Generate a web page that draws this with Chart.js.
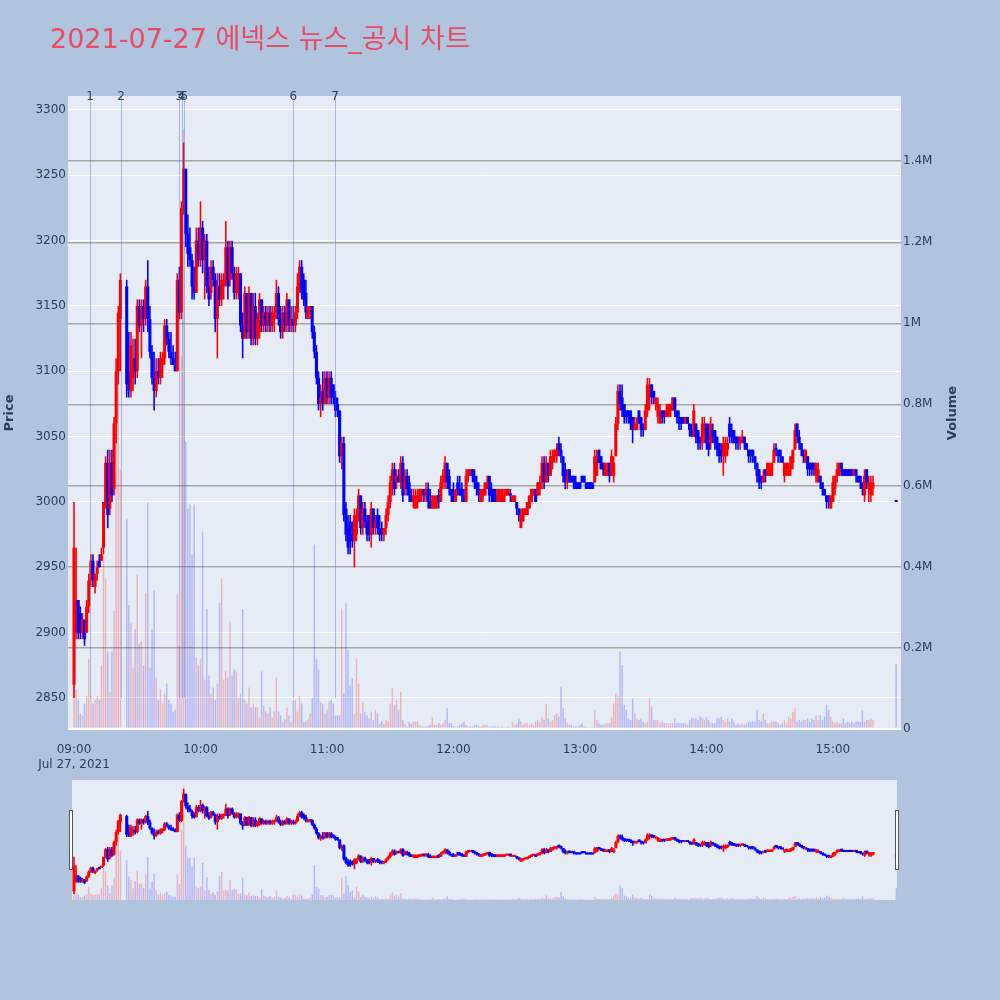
<!DOCTYPE html>
<html>
<head>
<meta charset="utf-8">
<script src="https://cdn.jsdelivr.net/npm/chart.js@4.4.0/dist/chart.umd.min.js"></script>
<style>
  html, body { margin: 0; padding: 0; background: #B0C4DE; }
  #wrap { position: relative; width: 1000px; height: 1000px; }
  #main { position: absolute; left: 0; top: 0; }
  #slider { position: absolute; left: 66px; top: 780px; }
</style>
</head>
<body>
<div id="wrap">
  <canvas id="main" width="1000" height="1000"></canvas>
  <canvas id="slider" width="837" height="120"></canvas>
</div>
<script>
const FONT = "'DejaVu Sans', 'Noto Sans CJK KR', sans-serif";
const INK = '#2a3f5f';
const UP = '#ff0000';
const DOWN = '#0000ff';

const titleText = '2021-07-27 에넥스 뉴스_공시 차트';
const dateLabel = 'Jul 27, 2021';

// tick positions
const hourTicks = [0, 60, 120, 180, 240, 300, 360];          // minutes after 09:00
const priceTicks = [2850, 2900, 2950, 3000, 3050, 3100, 3150, 3200, 3250, 3300];
const volumeTicks = [0, 200, 400, 600, 800, 1000, 1200, 1400]; // thousands

// one entry per minute from 09:00 (index = minutes after 09:00), null = no trades
const open = [
  2860,2900,2925,2915,2900,2910,2900,2920,2940,2955,
  2935,2945,2955,2955,2965,3000,3030,2995,3030,3010,
  3060,3100,3140,null,null,3165,3100,3085,3095,3110,
  3100,3150,3135,3150,3140,3165,3140,3115,3095,3085,
  3100,3095,3105,3110,3135,3125,3115,3110,3105,3100,
  3170,3145,3225,3255,3205,3195,3185,3165,3160,3200,
  3185,3210,3185,3200,3165,3160,3180,3170,3140,3165,
  3155,3165,3170,3195,3170,3195,3175,3160,3160,3175,
  3135,3125,3160,3130,3160,3125,3150,3125,3130,3155,
  3135,3145,3135,3145,3135,3140,3145,3160,3140,3130,
  3145,3135,3155,3135,3140,3135,3145,3165,3180,3170,
  3160,3140,3145,3150,3130,3115,3095,3075,3085,3075,
  3095,3080,3095,3090,3080,3075,3070,3035,3045,2995,
  2980,2985,2975,2970,2975,2990,3005,2980,2995,2985,
  2990,2975,2995,2980,2990,2980,2980,2975,2980,2990,
  3000,3015,3025,3015,3020,3015,3030,3010,3020,3015,
  3005,3000,2995,3000,3000,3005,3010,3005,3010,3000,
  2995,2995,2995,3005,3000,3015,3015,3030,3020,3010,
  3005,3000,3015,3010,3010,3005,3000,3020,3020,3025,
  3020,3015,3010,3000,3005,3005,3010,3020,3010,3010,
  3005,3000,3000,3000,3000,3005,3005,3005,3000,3000,
  3000,2995,2980,2985,2990,2990,2995,3000,3005,3010,
  3005,3010,3015,3030,3015,3030,3020,3030,3035,3035,
  3045,3040,3035,3025,3015,3025,3020,3020,3015,3015,
  3015,3020,3020,3015,3015,3015,3015,3015,3020,3040,
  3035,3030,3020,3020,3030,3020,3020,3035,3060,3085,
  3080,3075,3070,3070,3070,3065,3055,3055,3070,3065,
  3060,3055,3070,3080,3090,3085,3075,3065,3060,3070,
  3070,3065,3065,3070,3070,3080,3070,3065,3065,3065,
  3060,3065,3060,3055,3050,3060,3055,3050,3045,3050,
  3060,3055,3045,3055,3055,3050,3045,3040,3035,3035,
  3040,3060,3055,3055,3050,3050,3045,3045,3050,3045,
  3040,3040,3040,3035,3030,3025,3020,3015,3025,3020,
  3020,3020,3030,3040,3040,3040,3035,3020,3025,3020,
  3025,3030,3040,3060,3050,3045,3040,3030,3035,3030,
  3030,3030,3020,3015,3020,3015,3010,3005,3005,2995,
  3000,3010,3020,3020,3030,3025,3025,3025,3025,3025,
  3020,3025,3020,3020,3015,3005,3025,3010,3005,3010,
  null,null,null,null,null,null,null,null,null,null,
  3000
];
const high = [
  3000,2965,2925,2920,2915,2910,2925,2945,2960,2960,
  2945,2955,2960,2965,3000,3035,3040,3040,3040,3065,
  3110,3150,3175,null,null,3170,3130,3130,3125,3125,
  3155,3155,3155,3155,3170,3185,3150,3120,3115,3110,
  3110,3115,3115,3140,3140,3130,3130,3120,3115,3175,
  3180,3230,3275,3255,3220,3210,3190,3180,3210,3210,
  3230,3215,3205,3205,3180,3185,3185,3175,3175,3175,
  3175,3175,3215,3200,3200,3200,3180,3180,3180,3175,
  3145,3165,3160,3165,3160,3160,3160,3145,3160,3155,
  3150,3150,3150,3150,3150,3150,3170,3165,3150,3150,
  3150,3160,3155,3150,3150,3150,3175,3185,3185,3175,
  3170,3150,3150,3150,3135,3120,3100,3090,3100,3100,
  3100,3100,3100,3090,3085,3080,3070,3050,3050,3000,
  2990,2990,2985,2995,2995,3010,3005,3000,3000,2990,
  2990,3000,2995,2990,2995,2990,2985,2980,2995,3005,
  3020,3030,3030,3025,3025,3035,3035,3025,3025,3020,
  3010,3010,3010,3010,3010,3010,3010,3015,3015,3010,
  3005,3005,3005,3010,3020,3025,3035,3030,3025,3010,
  3015,3010,3020,3020,3015,3010,3025,3025,3025,3025,
  3025,3020,3015,3010,3010,3015,3020,3020,3015,3010,
  3010,3010,3010,3010,3010,3010,3010,3010,3005,3005,
  3000,2995,2995,2995,2995,3000,3005,3010,3010,3010,
  3015,3020,3035,3035,3035,3030,3040,3040,3040,3045,
  3050,3045,3035,3030,3025,3025,3020,3020,3020,3015,
  3015,3020,3020,3015,3015,3015,3015,3040,3040,3040,
  3035,3030,3030,3030,3030,3040,3035,3065,3090,3090,
  3090,3075,3070,3070,3070,3065,3065,3065,3070,3065,
  3060,3075,3095,3095,3090,3085,3080,3080,3075,3070,
  3070,3075,3075,3075,3080,3080,3070,3070,3065,3065,
  3065,3065,3060,3060,3075,3060,3055,3050,3065,3065,
  3060,3060,3065,3060,3055,3050,3045,3045,3050,3050,
  3050,3065,3060,3055,3050,3050,3050,3055,3050,3045,
  3040,3040,3040,3035,3030,3025,3020,3025,3025,3030,
  3030,3030,3045,3045,3040,3040,3035,3030,3030,3030,
  3035,3040,3060,3060,3055,3045,3040,3040,3035,3030,
  3030,3030,3030,3030,3020,3015,3010,3005,3005,3005,
  3020,3020,3030,3030,3030,3025,3025,3025,3025,3025,
  3025,3025,3020,3020,3015,3025,3025,3020,3020,3020,
  null,null,null,null,null,null,null,null,null,null,
  3000
];
const low = [
  2850,2895,2895,2895,2895,2890,2900,2915,2935,2935,
  2930,2940,2950,2955,2960,2995,2980,2990,3000,3005,
  3045,3090,3100,null,null,3080,3080,3080,3085,3090,
  3095,3130,3110,3130,3135,3130,3110,3090,3070,3080,
  3090,3090,3095,3105,3120,3110,3105,3105,3100,3100,
  3140,3140,3220,3195,3180,3180,3155,3155,3160,3180,
  3180,3175,3155,3160,3150,3155,3165,3130,3110,3150,
  3150,3155,3165,3155,3165,3170,3155,3155,3155,3130,
  3110,3125,3125,3125,3120,3120,3120,3120,3125,3130,
  3130,3130,3130,3130,3130,3130,3140,3135,3125,3125,
  3130,3130,3130,3130,3130,3130,3140,3160,3155,3150,
  3140,3140,3140,3125,3110,3090,3070,3065,3070,3075,
  3075,3075,3075,3075,3065,3065,3030,3025,2985,2970,
  2960,2960,2965,2950,2970,2985,2975,2975,2980,2970,
  2970,2965,2975,2975,2975,2970,2970,2970,2975,2985,
  2995,3005,3005,3010,3015,3010,3000,3005,3005,3000,
  3000,2995,2995,2995,3000,3000,3000,3000,2995,2995,
  2995,2995,2995,2995,3000,3010,3010,3010,3005,3000,
  3000,3000,3005,3005,3000,3000,3000,3015,3020,3015,
  3010,3005,3000,3000,3000,3005,3010,3000,3000,3000,
  3000,3000,3000,3000,3000,3005,3005,3000,3000,3000,
  2990,2985,2980,2985,2990,2990,2995,3000,3005,3000,
  3005,3005,3010,3010,3015,3015,3020,3025,3030,3030,
  3035,3030,3015,3010,3010,3015,3015,3010,3010,3010,
  3010,3015,3015,3010,3010,3010,3010,3015,3020,3030,
  3025,3020,3020,3020,3015,3020,3015,3035,3055,3070,
  3065,3060,3060,3060,3055,3045,3055,3055,3060,3050,
  3050,3055,3065,3070,3075,3075,3070,3060,3060,3060,
  3060,3065,3065,3065,3070,3065,3060,3055,3055,3060,
  3060,3060,3050,3050,3050,3045,3040,3040,3040,3045,
  3040,3035,3040,3045,3040,3035,3030,3030,3020,3030,
  3035,3045,3045,3045,3040,3040,3040,3045,3040,3040,
  3030,3030,3030,3025,3015,3010,3010,3015,3015,3020,
  3020,3020,3030,3035,3030,3030,3030,3015,3020,3020,
  3020,3025,3040,3045,3040,3035,3030,3030,3020,3020,
  3020,3020,3015,3015,3010,3005,3005,2995,2995,2995,
  3000,3005,3015,3020,3020,3020,3020,3020,3020,3020,
  3020,3015,3015,3010,3005,3000,3010,3000,3000,3005,
  null,null,null,null,null,null,null,null,null,null,
  3000
];
const close = [
  2965,2925,2900,2900,2910,2895,2920,2940,2955,2940,
  2945,2950,2950,2960,3000,3030,2990,3030,3005,3060,
  3100,3145,3170,null,null,3090,3085,3120,3110,3100,
  3150,3135,3150,3140,3165,3140,3115,3095,3085,3100,
  3095,3110,3110,3135,3125,3115,3110,3105,3100,3170,
  3145,3225,3255,3205,3190,3185,3165,3160,3200,3185,
  3210,3185,3200,3165,3155,3180,3170,3140,3165,3155,
  3170,3170,3195,3165,3195,3175,3160,3175,3175,3135,
  3125,3160,3130,3160,3125,3150,3125,3140,3155,3135,
  3145,3135,3145,3135,3145,3145,3160,3140,3130,3145,
  3135,3155,3135,3140,3135,3145,3165,3180,3160,3155,
  3145,3150,3150,3130,3115,3095,3075,3080,3075,3095,
  3080,3095,3080,3080,3070,3070,3035,3045,2990,2975,
  2965,2970,2970,2990,2990,3005,2980,2995,2985,2975,
  2975,2995,2980,2985,2980,2975,2975,2980,2990,3000,
  3015,3025,3010,3020,3015,3030,3005,3020,3010,3005,
  3000,3005,3005,3005,3010,3010,3005,3010,3000,2995,
  3005,3000,3005,3000,3015,3020,3030,3015,3010,3005,
  3000,3010,3010,3005,3005,3000,3020,3025,3025,3020,
  3015,3010,3005,3010,3010,3015,3015,3005,3005,3000,
  3000,3010,3005,3010,3005,3010,3010,3005,3005,3005,
  2995,2990,2990,2995,2995,3000,3005,3010,3010,3000,
  3015,3015,3030,3015,3030,3020,3035,3035,3040,3040,
  3040,3035,3020,3015,3020,3015,3015,3015,3010,3010,
  3010,3015,3015,3010,3010,3010,3010,3035,3035,3030,
  3025,3025,3030,3025,3020,3035,3030,3060,3085,3075,
  3070,3065,3065,3065,3060,3055,3060,3060,3060,3055,
  3055,3070,3090,3085,3080,3080,3080,3075,3070,3065,
  3065,3070,3075,3075,3080,3070,3065,3060,3060,3060,
  3065,3060,3055,3050,3070,3050,3045,3045,3060,3060,
  3045,3040,3060,3050,3045,3040,3035,3035,3045,3045,
  3045,3050,3050,3045,3045,3045,3050,3050,3045,3040,
  3035,3035,3035,3030,3020,3015,3015,3020,3020,3030,
  3025,3030,3040,3040,3035,3035,3030,3030,3030,3025,
  3035,3040,3055,3050,3045,3040,3035,3040,3025,3025,
  3025,3025,3030,3025,3015,3010,3005,3000,3000,3005,
  3015,3020,3025,3030,3025,3020,3020,3020,3020,3020,
  3025,3020,3015,3015,3010,3020,3015,3015,3015,3015,
  null,null,null,null,null,null,null,null,null,null,
  3000
];
// traded volume per minute, thousands of shares
const volume = [
  121,96,71,37,32,62,81,171,81,62,
  71,81,71,156,424,370,190,91,190,290,
  730,860,640,null,null,518,305,260,150,245,
  380,210,215,156,335,558,150,245,340,126,
  71,96,62,86,111,71,62,42,47,330,
  205,920,1480,707,543,553,429,553,176,156,
  171,484,121,295,131,86,101,71,111,310,
  370,121,141,126,265,131,146,141,76,86,
  295,71,62,101,52,62,52,52,27,141,
  57,42,37,52,27,42,126,42,32,17,
  22,52,32,17,71,71,42,81,62,17,
  17,22,37,76,454,171,146,66,62,37,
  47,66,71,62,32,32,32,296,87,309,
  194,107,124,37,173,111,37,66,41,33,
  25,41,21,46,37,12,17,12,21,17,
  62,99,58,70,46,91,21,12,5,17,
  12,17,17,17,9,5,5,5,6,9,
  29,9,9,13,9,13,21,50,13,13,
  6,3,5,9,13,17,9,5,6,5,
  9,9,6,5,9,9,9,5,5,6,
  5,5,2,5,3,2,5,3,15,9,
  13,25,17,9,13,13,9,13,9,17,
  21,17,29,21,62,25,17,21,33,37,
  29,103,50,25,13,9,9,5,6,5,
  9,13,5,2,2,2,3,46,21,13,
  9,9,13,13,13,29,62,87,79,190,
  157,58,46,25,21,74,37,25,21,25,
  17,13,17,74,54,21,21,21,13,17,
  13,13,13,13,13,25,13,13,13,13,
  13,9,21,25,25,25,21,29,25,21,
  29,21,13,13,13,25,25,29,21,17,
  25,17,25,17,9,13,9,13,9,13,
  17,17,17,17,46,21,17,37,21,13,
  13,17,17,17,13,9,13,21,13,29,
  25,41,50,17,21,17,21,21,25,17,
  25,21,33,21,33,21,29,58,46,29,
  17,13,17,13,13,25,13,17,13,17,
  13,17,17,17,46,17,21,21,25,21,
  null,null,null,null,null,null,null,null,null,null,
  160
];

// news / disclosure markers, minutes after 09:00
const newsLabels = ['1', '2', '3', '4', '5', '6', '7'];
const newsMinutes = [7.6, 22.3, 49.9, 51.0, 52.3, 104.0, 123.8];
const newsLineFloor = 2850;

function buildDatasets() {
  const wick = [], body = [], vol = [];
  const wickColor = [], bodyColor = [], volColor = [];
  for (let i = 0; i < open.length; i++) {
    if (open[i] === null) continue;
    const up = close[i] > open[i];
    wick.push({x: i, y: [low[i], high[i]]});
    body.push({x: i, y: [open[i], close[i]]});
    vol.push({x: i, y: volume[i]});
    wickColor.push(up ? UP : DOWN);
    bodyColor.push(up ? UP : DOWN);
    volColor.push(up ? 'rgba(255,0,0,0.24)' : 'rgba(0,0,255,0.22)');
  }
  const common = {grouped: false, categoryPercentage: 1, borderWidth: 0};
  return [
    {...common, label: 'Volume', data: vol, yAxisID: 'y2', backgroundColor: volColor, barPercentage: 0.7, order: 0},
    {...common, label: 'body', data: body, yAxisID: 'y', backgroundColor: bodyColor, barPercentage: 1.45, minBarLength: 2, order: 1},
    {...common, label: 'wick', data: wick, yAxisID: 'y', backgroundColor: wickColor, barPercentage: 0.75, order: 2},
  ];
}

const hhmm = v => String(9 + Math.floor(v / 60)).padStart(2, '0') + ':' + String(v % 60).padStart(2, '0');
const useTicks = list => s => { s.ticks = list.map(v => ({value: v})); };

const plotDecor = {
  id: 'plotDecor',
  beforeDraw(chart) {
    const {ctx, chartArea: a} = chart;
    ctx.save();
    ctx.fillStyle = '#E5ECF6';
    ctx.fillRect(a.left, a.top, a.right - a.left, a.bottom - a.top);
    ctx.restore();
  },
  afterDatasetsDraw(chart) {
    const {ctx, chartArea: a, scales: {x, y}} = chart;
    ctx.save();
    ctx.strokeStyle = 'rgba(65,105,225,0.4)';
    ctx.lineWidth = 1;
    newsMinutes.forEach(m => {
      const px = Math.round(x.getPixelForValue(m)) + 0.5;
      ctx.beginPath();
      ctx.moveTo(px, y.getPixelForValue(newsLineFloor));
      ctx.lineTo(px, a.top);
      ctx.stroke();
    });
    ctx.fillStyle = INK;
    ctx.font = `12px ${FONT}`;
    ctx.textAlign = 'center';
    ctx.textBaseline = 'middle';
    newsMinutes.forEach((m, i) => ctx.fillText(newsLabels[i], x.getPixelForValue(m), a.top + 1));

    // axis titles
    const mid = (a.top + a.bottom) / 2;
    ctx.font = `bold 13px ${FONT}`;
    ctx.save();
    ctx.translate(10, mid);
    ctx.rotate(-Math.PI / 2);
    ctx.fillText('Price', 0, 0);
    ctx.restore();
    ctx.save();
    ctx.translate(953, mid);
    ctx.rotate(-Math.PI / 2);
    ctx.fillText('Volume', 0, 0);
    ctx.restore();

    // chart title
    ctx.fillStyle = 'rgb(232,76,100)';
    ctx.font = `27px ${FONT}`;
    ctx.textAlign = 'left';
    ctx.fillText(titleText, 50, 41);
    ctx.restore();
  }
};

const tickFont = {family: FONT, size: 12};

new Chart(document.getElementById('main'), {
  type: 'bar',
  data: {datasets: buildDatasets()},
  options: {
    responsive: false,
    animation: false,
    events: [],
    layout: {padding: {left: 0, right: 0, top: 96, bottom: 0}},
    plugins: {
      legend: {display: false},
      tooltip: {enabled: false},
      title: {display: false, text: titleText}
    },
    scales: {
      x: {
        type: 'linear',
        min: -2.85,
        max: 392.3,
        offset: false,
        grid: {display: false},
        border: {display: false},
        afterFit: s => { s.height = 270; },
        afterBuildTicks: useTicks(hourTicks),
        ticks: {
          autoSkip: false, maxRotation: 0, padding: 5, color: INK, font: tickFont,
          callback: v => v === 0 ? [hhmm(v), dateLabel] : hhmm(v)
        }
      },
      y: {
        type: 'linear',
        position: 'left',
        min: 2825.5,
        max: 3310.7,
        stacked: false,
        grid: {color: '#ffffff', lineWidth: 1, drawTicks: false},
        border: {display: false},
        afterFit: s => { s.width = 68; },
        afterBuildTicks: useTicks(priceTicks),
        ticks: {padding: 2, color: INK, font: tickFont, callback: v => String(v)}
      },
      y2: {
        type: 'linear',
        position: 'right',
        min: -3.7,
        max: 1561,
        stacked: false,
        grid: {
          color: c => c.tick.value === 0 ? '#ffffff' : '#a6a6a6',
          lineWidth: c => c.tick.value === 0 ? 2 : 1.5,
          drawTicks: false
        },
        border: {display: false},
        afterFit: s => { s.width = 99; },
        afterBuildTicks: useTicks(volumeTicks),
        ticks: {
          padding: 2, color: INK, font: tickFont,
          callback: v => v === 0 ? '0' : (v / 1000) + 'M'
        }
      }
    }
  },
  plugins: [plotDecor]
});

const sliderDecor = {
  id: 'sliderDecor',
  beforeDraw(chart) {
    const {ctx, chartArea: a} = chart;
    ctx.save();
    ctx.fillStyle = '#E5ECF6';
    ctx.fillRect(a.left, a.top, a.right - a.left, a.bottom - a.top);
    ctx.restore();
  },
  afterDraw(chart) {
    const {ctx, chartArea: a} = chart;
    ctx.save();
    ctx.fillStyle = '#ffffff';
    ctx.strokeStyle = '#555555';
    ctx.lineWidth = 1;
    [a.left - 2.5, a.right - 1.5].forEach(hx => {
      ctx.fillRect(hx, 30.5, 3, 59);
      ctx.strokeRect(hx, 30.5, 3, 59);
    });
    ctx.restore();
  }
};

new Chart(document.getElementById('slider'), {
  type: 'bar',
  data: {datasets: buildDatasets()},
  options: {
    responsive: false,
    animation: false,
    events: [],
    layout: {padding: {left: 6, right: 6, top: 0, bottom: 0}},
    plugins: {legend: {display: false}, tooltip: {enabled: false}, title: {display: false}},
    scales: {
      x: {type: 'linear', display: false, min: -0.95, max: 390.3, offset: false},
      y: {type: 'linear', display: false, min: 2825.5, max: 3310.7, stacked: false},
      y2: {type: 'linear', display: false, position: 'right', min: 0, max: 1561, stacked: false}
    }
  },
  plugins: [sliderDecor]
});
</script>
</body>
</html>
